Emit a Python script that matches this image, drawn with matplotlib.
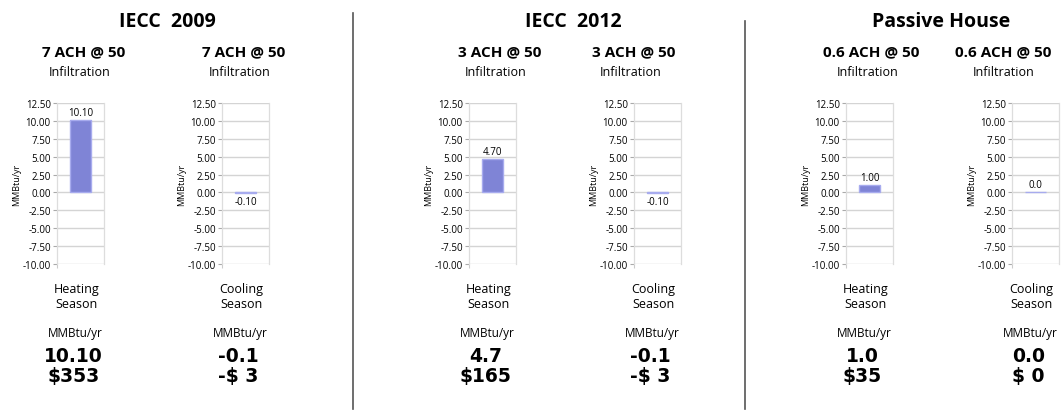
import matplotlib
matplotlib.use("Agg")
import matplotlib.pyplot as plt

# data
sections = ["IECC  2009", "IECC  2012", "Passive House"]
ach_labels = ["7 ACH @ 50", "3 ACH @ 50", "0.6 ACH @ 50"]
heating = [10.10, 4.70, 1.00]
cooling = [-0.10, -0.10, 0.0]
heating_bar_labels = ["10.10", "4.70", "1.00"]
cooling_bar_labels = ["-0.10", "-0.10", "0.0"]
heating_totals = ["10.10", "4.7", "1.0"]
cooling_totals = ["-0.1", "-0.1", "0.0"]
heating_costs = ["$353", "$165", "$35"]
cooling_costs = ["-$ 3", "-$ 3", "$ 0"]
yticks = [-10.0, -7.5, -5.0, -2.5, 0.0, 2.5, 5.0, 7.5, 10.0, 12.5]

W, H = 1064, 414
fig = plt.figure(figsize=(W / 100, H / 100), dpi=100)
fig.patch.set_facecolor("white")

HEAD = "Open Sans"
BAR = "#7f84d6"
GRID = "#d4d4d4"


def fx(px):
    return px / W


def fy(py):
    return 1 - py / H


# layout (pixels)
ax_lefts = [57, 222, 469, 634, 846, 1012]
ax_w, ax_top, ax_bot = 47, 104, 265
head_x = [84, 244, 500, 634, 871, 1003]
infil_x = [80, 240, 496, 631, 868, 1004]
section_x = [167, 573, 941]

values, bar_labels, totals, costs, seasons = [], [], [], [], []
for i in range(3):
    values += [heating[i], cooling[i]]
    bar_labels += [heating_bar_labels[i], cooling_bar_labels[i]]
    totals += [heating_totals[i], cooling_totals[i]]
    costs += [heating_costs[i], cooling_costs[i]]
    seasons += ["Heating\nSeason", "Cooling\nSeason"]

for k in range(6):
    left = ax_lefts[k]
    ax = fig.add_axes([fx(left), fy(ax_bot), fx(ax_w), (ax_bot - ax_top) / H])
    v = values[k]
    ax.bar([0], [v], width=0.45, color=BAR, edgecolor="#a7abee", linewidth=1, zorder=3)
    ax.set_xlim(-0.5, 0.5)
    ax.set_ylim(-10, 12.5)
    ax.set_yticks(yticks)
    ax.set_yticklabels([f"{t:.2f}" for t in yticks], fontfamily=HEAD, fontsize=7)
    ax.set_xticks([-0.5])
    ax.set_xticklabels([""])
    ax.tick_params(axis="y", length=3, width=0.8, color="#aaaaaa", pad=1.5)
    ax.tick_params(axis="x", length=3, width=0.8, color="#cccccc")
    ax.grid(axis="y", color=GRID, linewidth=1, zorder=0)
    for s in ["top", "bottom"]:
        ax.spines[s].set_visible(False)
    for s in ["left", "right"]:
        ax.spines[s].set_color("#dddddd")
        ax.spines[s].set_linewidth(0.9)
    if v > 0 or bar_labels[k] == "0.0":
        ax.annotate(bar_labels[k], (0, v), xytext=(0, 1.5), textcoords="offset points",
                    ha="center", va="bottom", fontsize=7, fontfamily=HEAD)
    else:
        ax.annotate(bar_labels[k], (0, v), xytext=(0, -2), textcoords="offset points",
                    ha="center", va="top", fontsize=7, fontfamily=HEAD)

    cx = left + ax_w / 2 - 4
    fig.text(fx(left - 40), fy((ax_top + ax_bot) / 2), "MMBtu/yr", rotation=90,
             ha="center", va="center", fontsize=6.5, fontfamily=HEAD)
    fig.text(fx(head_x[k]), fy(52), ach_labels[k // 2], ha="center", va="center",
             fontsize=11, fontweight="bold", fontfamily=HEAD)
    fig.text(fx(infil_x[k]), fy(73), "Infiltration", ha="center", va="center",
             fontsize=9, fontfamily=HEAD)
    fig.text(fx(cx), fy(297), seasons[k], ha="center", va="center",
             fontsize=9, fontfamily=HEAD, linespacing=1.25)
    fig.text(fx(cx - 1), fy(334), "MMBtu/yr", ha="center", va="center",
             fontsize=8.5, fontfamily=HEAD)
    fig.text(fx(cx - 3), fy(356), totals[k], ha="center", va="center",
             fontsize=13.5, fontweight="bold", fontfamily="DejaVu Sans")
    fig.text(fx(cx - 3), fy(377), costs[k], ha="center", va="center",
             fontsize=13.5, fontweight="bold", fontfamily="DejaVu Sans")

for i in range(3):
    fig.text(fx(section_x[i]), fy(22), sections[i], ha="center", va="center",
             fontsize=14, fontweight="bold", fontfamily=HEAD)

# separators
fig.add_artist(plt.Line2D([fx(353), fx(353)], [fy(14), fy(410)], color="#555555", linewidth=1.2))
fig.add_artist(plt.Line2D([fx(745), fx(745)], [fy(22), fy(410)], color="#555555", linewidth=1.2))

fig.savefig("out.png", dpi=100, facecolor="white")
